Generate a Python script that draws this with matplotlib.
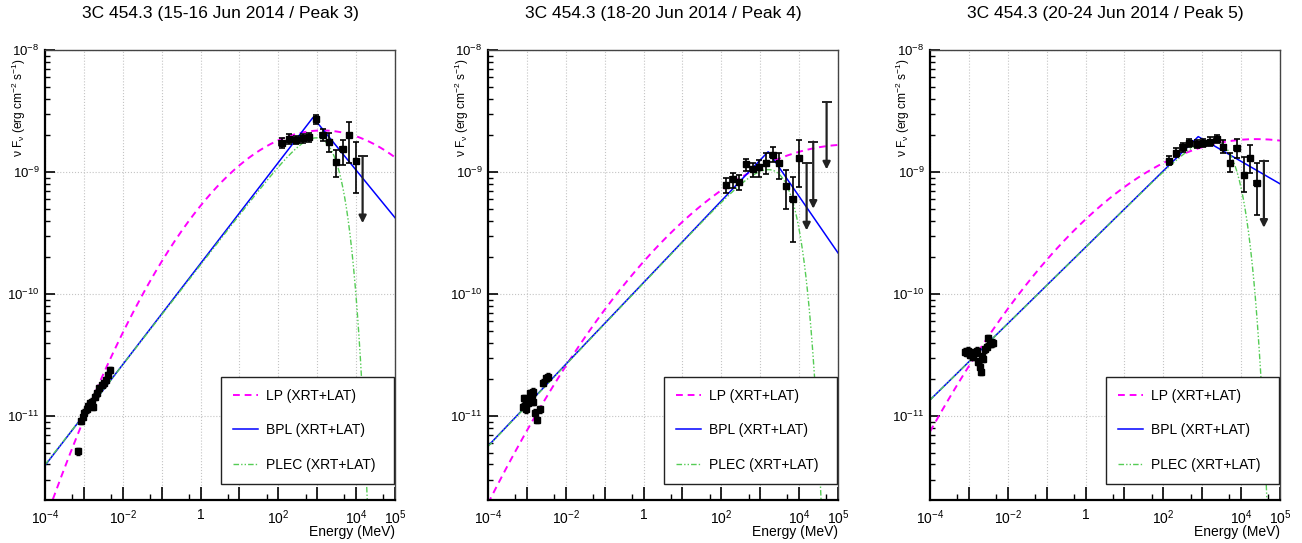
import numpy as np
import matplotlib
matplotlib.use("Agg")
import matplotlib.pyplot as plt
from matplotlib.ticker import FixedLocator, FuncFormatter, LogLocator, NullFormatter

plt.rcParams['font.family'] = ['Liberation Sans', 'DejaVu Sans']
plt.rcParams['mathtext.fontset'] = 'custom'
plt.rcParams['mathtext.rm'] = 'Liberation Sans'
plt.rcParams['mathtext.it'] = 'Liberation Sans:italic'
plt.rcParams['mathtext.default'] = 'regular'

# Panel titles
titles = ["3C 454.3 (15-16 Jun 2014 / Peak 3)",
          "3C 454.3 (18-20 Jun 2014 / Peak 4)",
          "3C 454.3 (20-24 Jun 2014 / Peak 5)"]

# ---- Peak 3 ----
xrt1_E = [6.92e-4, 8.28e-4, 9.31e-4, 1.023e-3, 1.180e-3, 1.297e-3, 1.436e-3, 1.585e-3, 1.746e-3,
          1.928e-3, 2.213e-3, 2.489e-3, 2.871e-3, 3.289e-3, 3.698e-3, 4.236e-3, 4.688e-3]
xrt1_F = [5.13e-12, 9.10e-12, 9.86e-12, 1.064e-11, 1.135e-11, 1.208e-11, 1.271e-11, 1.309e-11, 1.191e-11,
          1.439e-11, 1.535e-11, 1.687e-11, 1.795e-11, 1.854e-11, 1.972e-11, 2.168e-11, 2.382e-11]
lat1_E = [122, 191, 283, 421, 624, 927, 1377, 2037, 3027, 4498, 6653, 9886]
lat1_F = [1.74e-9, 1.85e-9, 1.83e-9, 1.89e-9, 1.92e-9, 2.70e-9, 2.01e-9, 1.75e-9, 1.20e-9, 1.545e-9, 2.01e-9, 1.24e-9]
lat1_lo = [1.58e-9, 1.69e-9, 1.69e-9, 1.74e-9, 1.77e-9, 2.46e-9, 1.80e-9, 1.46e-9, 0.906e-9, 1.14e-9, 1.18e-9, 0.676e-9]
lat1_hi = [1.91e-9, 2.03e-9, 1.98e-9, 2.04e-9, 2.08e-9, 2.95e-9, 2.23e-9, 2.09e-9, 1.51e-9, 1.83e-9, 2.58e-9, 1.77e-9]
ul1_E = [14690]
ul1_F = [1.35e-9]

# ---- Peak 4 ----
xrt2_E = [7.80e-4, 8.59e-4, 9.48e-4, 1.047e-3, 1.153e-3, 1.202e-3, 1.327e-3, 1.409e-3, 1.462e-3,
          1.614e-3, 1.849e-3, 2.173e-3, 2.642e-3, 3.097e-3, 3.548e-3]
xrt2_F = [1.191e-11, 1.396e-11, 1.135e-11, 1.285e-11, 1.371e-11, 1.535e-11, 1.486e-11, 1.309e-11, 1.581e-11,
          1.064e-11, 0.927e-11, 1.135e-11, 1.875e-11, 2.037e-11, 2.099e-11]
lat2_E = [131, 195, 288, 429, 638, 942, 1403, 2084, 3083, 4581, 6808, 10070]
lat2_F = [0.782e-9, 0.871e-9, 0.834e-9, 1.156e-9, 1.052e-9, 1.091e-9, 1.178e-9, 1.377e-9, 1.178e-9, 0.767e-9, 0.597e-9, 1.294e-9]
lat2_lo = [0.668e-9, 0.734e-9, 0.711e-9, 1.026e-9, 0.914e-9, 0.914e-9, 0.964e-9, 1.213e-9, 0.871e-9, 0.494e-9, 0.269e-9, 0.759e-9]
lat2_hi = [0.887e-9, 0.975e-9, 0.944e-9, 1.279e-9, 1.178e-9, 1.253e-9, 1.439e-9, 1.611e-9, 1.439e-9, 1.038e-9, 0.914e-9, 1.828e-9]
ul2_E = [15600, 23070, 50930]
ul2_F = [1.178e-9, 1.774e-9, 3.724e-9]

# ---- Peak 5 ----
xrt3_E = [7.94e-4, 8.77e-4, 9.66e-4, 1.067e-3, 1.178e-3, 1.300e-3, 1.436e-3, 1.585e-3, 1.746e-3, 1.928e-3,
          2.009e-3, 2.133e-3, 2.344e-3, 2.594e-3, 2.864e-3, 3.155e-3, 3.483e-3, 3.855e-3, 4.236e-3]
xrt3_F = [3.37e-11, 3.27e-11, 3.43e-11, 3.16e-11, 3.30e-11, 3.06e-11, 3.27e-11, 3.43e-11, 2.79e-11, 2.54e-11,
          2.31e-11, 3.06e-11, 2.92e-11, 3.52e-11, 3.70e-11, 4.34e-11, 3.89e-11, 3.94e-11, 3.99e-11]
lat3_E = [142, 211, 313, 463, 718, 1062, 1578, 2344, 3467, 5152, 7656, 11800, 16830, 25000]
lat3_F = [1.239e-9, 1.439e-9, 1.592e-9, 1.738e-9, 1.698e-9, 1.738e-9, 1.774e-9, 1.854e-9, 1.611e-9, 1.191e-9,
          1.563e-9, 0.944e-9, 1.294e-9, 0.817e-9]
lat3_lo = [1.14e-9, 1.33e-9, 1.47e-9, 1.60e-9, 1.57e-9, 1.60e-9, 1.64e-9, 1.72e-9, 1.42e-9, 1.005e-9,
           1.294e-9, 0.690e-9, 0.975e-9, 0.445e-9]
lat3_hi = [1.34e-9, 1.56e-9, 1.72e-9, 1.88e-9, 1.84e-9, 1.88e-9, 1.92e-9, 2.01e-9, 1.83e-9, 1.42e-9,
           1.854e-9, 1.333e-9, 1.663e-9, 1.178e-9]
ul3_E = [38550]
ul3_F = [1.239e-9]

# Model parameters per panel (nuFnu, MeV)
lp_peak_E = [1349, 2.14e5, 2.5e4]
lp_peak_F = [2.19e-9, 1.68e-9, 1.86e-9]
lp_curv = [0.063, 0.0338, 0.034]
bpl_break_E = [780, 1607, 789]
bpl_break_F = [2.8e-9, 1.47e-9, 1.95e-9]
bpl_idx_lo = [0.414, 0.335, 0.313]
bpl_idx_hi = [-0.39, -0.463, -0.184]
plec_norm = [3.98e-12, 5.62e-12, 1.35e-11]   # at 1e-4 MeV
plec_idx = [0.41, 0.335, 0.313]
plec_cut = [2280, 4826, 5670]

legend_labels = ["LP (XRT+LAT)", "BPL (XRT+LAT)", "PLEC (XRT+LAT)"]
x_labelled = [1e-4, 1e-2, 1, 1e2, 1e4, 1e5]

xrt_sets = [(xrt1_E, xrt1_F), (xrt2_E, xrt2_F), (xrt3_E, xrt3_F)]
lat_sets = [(lat1_E, lat1_F, lat1_lo, lat1_hi), (lat2_E, lat2_F, lat2_lo, lat2_hi),
            (lat3_E, lat3_F, lat3_lo, lat3_hi)]
ul_sets = [(ul1_E, ul1_F), (ul2_E, ul2_F), (ul3_E, ul3_F)]

W, H = 1302, 543
fig = plt.figure(figsize=(W / 100, H / 100), dpi=100)
ax_left_px = [45, 488, 930]

'''Format only a few decades on the energy axis'''
def x_fmt(v, pos):
    for t in x_labelled:
        if abs(np.log10(v) - np.log10(t)) < 1e-6:
            if t == 1:
                return "1"
            return r"$10^{%d}$" % int(round(np.log10(t)))
    return ""

def y_fmt(v, pos):
    return r"$10^{%d}$" % int(round(np.log10(v)))

E = np.logspace(-4, 5, 600)

for i in range(3):
    ax = fig.add_axes([ax_left_px[i] / W, 43 / H, 350 / W, 450 / H])
    ax.set_xscale("log")
    ax.set_yscale("log")

    # models
    lp = lp_peak_F[i] * 10 ** (-lp_curv[i] * np.log10(E / lp_peak_E[i]) ** 2)
    bpl = np.where(E < bpl_break_E[i],
                   bpl_break_F[i] * (E / bpl_break_E[i]) ** bpl_idx_lo[i],
                   bpl_break_F[i] * (E / bpl_break_E[i]) ** bpl_idx_hi[i])
    plec = plec_norm[i] * (E / 1e-4) ** plec_idx[i] * np.exp(-E / plec_cut[i])
    l1, = ax.plot(E, lp, color="#ff00ff", ls=(0, (3.5, 2.5)), lw=1.4)
    l2, = ax.plot(E, bpl, color="#0000ff", lw=1.1)
    l3, = ax.plot(E, plec, color="#55cc55", ls=(0, (4, 1.5, 1, 1.5, 1, 1.5)), lw=1.0)

    # X-ray points
    xe, xf = np.array(xrt_sets[i][0]), np.array(xrt_sets[i][1])
    ax.errorbar(xe, xf, yerr=[xf * 0.06, xf * 0.065], xerr=[xe * 0.02, xe * 0.02],
                fmt="s", color="k", ms=4.5, elinewidth=1.1, capsize=1.5, capthick=1.0)

    # LAT points
    le, lf, llo, lhi = [np.array(a) for a in lat_sets[i]]
    ax.errorbar(le, lf, yerr=[lf - llo, lhi - lf], xerr=[le * 0.13, le * 0.15],
                fmt="s", color="k", ms=4.5, elinewidth=1.2, capsize=2, capthick=1.2)

    # upper limits
    for ue, uf in zip(*ul_sets[i]):
        ax.annotate("", xy=(ue, uf / 10 ** 0.55), xytext=(ue, uf),
                    arrowprops=dict(arrowstyle="-|>", color="#222222", lw=1.6,
                                    mutation_scale=11, shrinkA=0, shrinkB=0))
        ax.plot([ue], [uf], marker="_", ms=7, mew=1.4, color="#222222")

    ax.set_xlim(1e-4, 1e5)
    ax.set_ylim(10 ** -11.689, 1e-8)

    ax.xaxis.set_major_locator(FixedLocator([10.0 ** k for k in range(-4, 6)]))
    ax.xaxis.set_major_formatter(FuncFormatter(x_fmt))
    ax.xaxis.set_minor_locator(LogLocator(base=10, subs=[5.0], numticks=20))
    ax.xaxis.set_minor_formatter(NullFormatter())
    ax.yaxis.set_major_locator(FixedLocator([1e-11, 1e-10, 1e-9, 1e-8]))
    ax.yaxis.set_major_formatter(FuncFormatter(y_fmt))
    ax.yaxis.set_minor_locator(LogLocator(base=10, subs=np.arange(2, 10), numticks=20))
    ax.yaxis.set_minor_formatter(NullFormatter())

    ax.tick_params(axis="x", which="major", direction="in", length=9.5, width=1.2, labelsize=10, pad=6)
    ax.tick_params(axis="x", which="minor", direction="in", length=4.5, width=1.0)
    ax.tick_params(axis="y", which="major", direction="in", length=7.5, width=1.2, labelsize=9.5, pad=4)
    ax.tick_params(axis="y", which="minor", direction="in", length=3.8, width=1.0)
    ax.grid(which="major", ls=":", color="#c4c4c4", lw=0.8)

    for s in ["left", "bottom"]:
        ax.spines[s].set_linewidth(1.6)
    for s in ["top", "right"]:
        ax.spines[s].set_linewidth(1.0)
        ax.spines[s].set_color("#444444")

    ax.set_title(titles[i], fontsize=12.5, pad=23)
    ax.set_ylabel(r"$\nu$ F$_{\nu}$ (erg cm$^{-2}$ s$^{-1}$)", fontsize=8.6, loc="top")
    ax.yaxis.set_label_coords(-0.05, 0.982)
    ax.set_xlabel("Energy (MeV)", fontsize=10, loc="right")
    ax.xaxis.set_label_coords(1.0, -0.056)

    leg = ax.legend([l1, l2, l3], legend_labels, loc="lower left",
                    bbox_to_anchor=(0.502, 0.0356, 0.496, 0.24), mode="expand",
                    fontsize=10, frameon=True, fancybox=False, framealpha=1,
                    edgecolor="#222222", borderpad=0.85, labelspacing=1.5,
                    handlelength=1.8, handletextpad=0.6, borderaxespad=0)
    leg.get_frame().set_linewidth(1.0)

fig.savefig("out.png", dpi=100)
